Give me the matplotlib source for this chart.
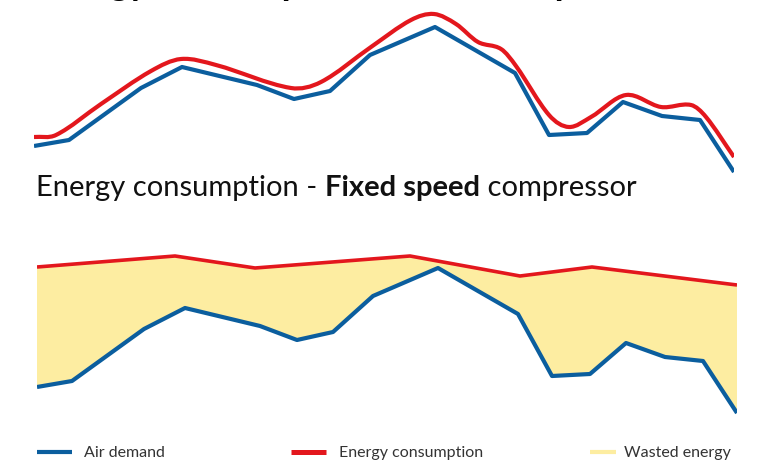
"""Air demand vs energy consumption: variable speed (top) and fixed speed (bottom) compressor."""

import matplotlib
matplotlib.use("Agg")
import matplotlib.pyplot as plt
import numpy as np
from matplotlib.lines import Line2D
from matplotlib.patches import PathPatch
from matplotlib.path import Path

BLUE = "#0b5e9e"
RED = "#e3171d"
YELLOW = "#fdeda1"
FONT = ["Lato", "DejaVu Sans"]

# time axis (arbitrary units across the day) and air demand (%)
DEMAND_T = [0, 35, 107, 148, 223, 260, 296, 336, 401, 481, 515, 553, 589, 628, 666, 700]
DEMAND = [26, 29, 55, 65.5, 56.5, 49.5, 53.5, 71.5, 85.5, 62.5, 31.5, 32.5, 48, 41, 39, 13]

# variable speed compressor: energy closely follows demand (smooth curve)
VSD_T = [0, 22, 67, 117, 147, 182, 257, 287, 337, 377, 400, 422, 444, 467, 482,
         515, 535, 557, 592, 627, 657, 672, 700]
VSD_ENERGY = [30.5, 31.5, 47, 63.5, 69.5, 66.5, 55, 58, 75.5, 89, 92, 87, 78, 74.5, 66,
              41.5, 35.5, 40.5, 51.5, 45.5, 46.5, 40.5, 20.5]

# fixed speed compressor: energy stays high regardless of demand
FIXED_T = [0, 138, 218, 373, 483, 555, 700]
FIXED_ENERGY = [86, 91.5, 85.5, 91.5, 81.5, 86, 77]

LEGEND_LABELS = ["Air demand", "Energy consumption", "Wasted energy"]


def smooth_path(t, v):
    """Hermite-style cubic bezier through the points (tangents from neighbours)."""
    t = np.asarray(t, float)
    v = np.asarray(v, float)
    n = len(t)
    m = np.zeros(n)
    for i in range(n):
        a, b = max(i - 1, 0), min(i + 1, n - 1)
        m[i] = (v[b] - v[a]) / (t[b] - t[a])
    verts = [(t[0], v[0])]
    codes = [Path.MOVETO]
    for i in range(n - 1):
        h = (t[i + 1] - t[i]) / 3
        verts += [(t[i] + h, v[i] + m[i] * h),
                  (t[i + 1] - h, v[i + 1] - m[i + 1] * h),
                  (t[i + 1], v[i + 1])]
        codes += [Path.CURVE4] * 3
    return Path(verts, codes)


W, H = 763, 464
fig = plt.figure(figsize=(W / 100, H / 100), dpi=100)

# top panel: variable speed
ax_top = fig.add_axes([34 / W, (H - 199) / H, 700 / W, 200 / H])
ax_top.plot(DEMAND_T, DEMAND, color=BLUE, lw=3.0, solid_capstyle="butt", zorder=2)
ax_top.add_patch(PathPatch(smooth_path(VSD_T, VSD_ENERGY), fill=False, ec=RED,
                           lw=3.0, capstyle="butt", zorder=3))

# bottom panel: fixed speed
ax_bot = fig.add_axes([37 / W, (H - 440) / H, 700 / W, 200 / H])
poly = list(zip(FIXED_T, FIXED_ENERGY)) + list(zip(DEMAND_T[::-1], DEMAND[::-1]))
ax_bot.fill(*zip(*poly), color=YELLOW, lw=0, zorder=1)
ax_bot.plot(FIXED_T, FIXED_ENERGY, color=RED, lw=2.6, solid_capstyle="butt", zorder=3)
ax_bot.plot(DEMAND_T, DEMAND, color=BLUE, lw=3.0, solid_capstyle="butt", zorder=2)

for ax in (ax_top, ax_bot):
    ax.set_xlim(0, 700)
    ax.set_ylim(0, 100)
    ax.axis("off")
    ax.patch.set_alpha(0)

# titles (top one is cropped by the figure edge, as in the source)
fig.text(36 / W, 1 + 5 / H, "Energy consumption - Variable speed drive",
         fontsize=26, fontweight="bold", family=FONT, va="baseline", ha="left")

t1 = fig.text(36 / W, (H - 196) / H, "Energy consumption - ", fontsize=21,
              fontweight="normal", family=FONT, va="baseline", ha="left", color="#111111")
t2 = fig.text(0, 0, "Fixed speed", fontsize=21, fontweight="bold", family=FONT,
              va="bottom", ha="left", color="#111111")
t3 = fig.text(0, 0, " compressor", fontsize=21, fontweight="normal", family=FONT,
              va="bottom", ha="left", color="#111111")
fig.canvas.draw()
r = fig.canvas.get_renderer()
bb1 = t1.get_window_extent(r)
t2.set_position((bb1.x1 / W, bb1.y0 / H))
fig.canvas.draw()
bb2 = t2.get_window_extent(r)
t3.set_position((bb2.x1 / W, bb2.y0 / H))

# legend row
legend_y = (H - 453) / H
swatches = [((37, 72), BLUE, 3.0), ((291, 326), RED, 3.6), ((590, 616), YELLOW, 3.0)]
text_x = [84, 339, 624]
for ((x0, x1), color, lw), tx, label in zip(swatches, text_x, LEGEND_LABELS):
    fig.add_artist(Line2D([x0 / W, x1 / W], [legend_y, legend_y], color=color, lw=lw,
                          solid_capstyle="butt", transform=fig.transFigure))
    fig.text(tx / W, legend_y, label, fontsize=11.5, fontweight="normal", family=FONT,
             va="center", ha="left", color="#333333")

fig.savefig("out.png", dpi=100)
